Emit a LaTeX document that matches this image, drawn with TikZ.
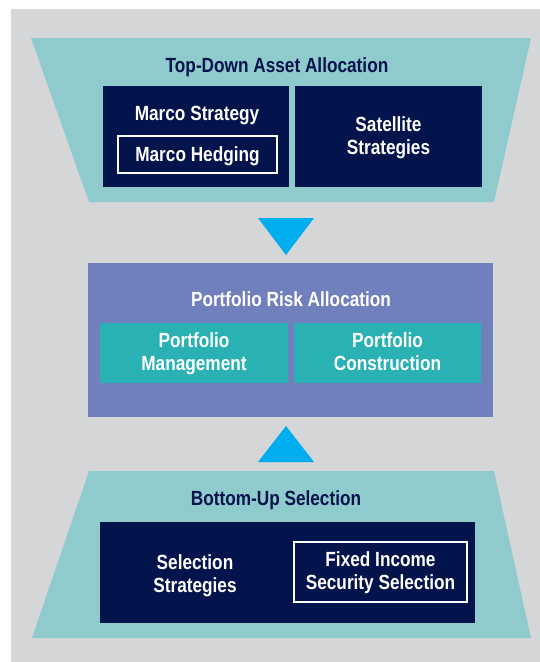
\documentclass[tikz,border=0pt]{standalone}
\usepackage{fontspec}
\setmainfont{Liberation Sans}[FakeStretch=0.84]
\definecolor{bgc}{HTML}{D5D6D8}
\definecolor{tealc}{HTML}{8FCBCC}
\definecolor{navyc}{HTML}{03134B}
\definecolor{violetc}{HTML}{7080BC}
\definecolor{tealboxc}{HTML}{29B1B3}
\definecolor{arrowc}{HTML}{00AEEF}
\begin{document}
\begin{tikzpicture}[x=1pt,y=-1pt,
  txt/.style={font=\fontsize{20.5}{23}\selectfont\bfseries, align=center, inner sep=0pt, yshift=-2.5pt,
    execute at begin node=\strut, execute at end node=\strut},
  wtxt/.style={txt, text=white},
  darkbox/.style={fill=navyc, inner sep=0pt},
  outlinebox/.style={draw=white, line width=1.2pt, inner sep=0pt},
  tealbox/.style={fill=tealboxc, inner sep=0pt},
  heading/.style={txt, text=navyc},
  arrowtri/.style={fill=arrowc}]
\useasboundingbox (0,0) rectangle (540,662);
\fill[bgc] (11,9) rectangle (540,662);
% top trapezoid
\fill[tealc] (31,38) -- (531,38) -- (494,202) -- (89,202) -- cycle;
\node[heading] (toptitle) at (277,65) {Top-Down Asset Allocation};
\node[darkbox, minimum width=186pt, minimum height=101pt] (ms) at (196,136.5) {};
\node[wtxt] (mstext) at (197,113) {Marco Strategy};
\node[outlinebox, minimum width=159pt, minimum height=37pt] (mh) at (197.5,154.5) {};
\node[wtxt] at (mh.center) {Marco Hedging};
\node[darkbox, minimum width=187pt, minimum height=101pt] (sat) at (388.5,136.5) {};
\node[wtxt] at (sat.center) {Satellite\\Strategies};
% down arrow
\fill[arrowtri] (258,218) -- (314,218) -- (286,255) -- cycle;
% middle
\node[fill=violetc, minimum width=405pt, minimum height=154pt, inner sep=0pt] (mid) at (290.5,340) {};
\node[wtxt] (midtitle) at (291,299) {Portfolio Risk Allocation};
\node[tealbox, minimum width=188pt, minimum height=60pt] (pm) at (194,353) {};
\node[wtxt] at (pm.center) {Portfolio\\Management};
\node[tealbox, minimum width=187pt, minimum height=60pt] (pc) at (387.5,353) {};
\node[wtxt] at (pc.center) {Portfolio\\Construction};
% up arrow
\fill[arrowtri] (286,426) -- (314,462) -- (258,462) -- cycle;
% bottom trapezoid
\fill[tealc] (89,471) -- (494,471) -- (531,638) -- (32,638) -- cycle;
\node[heading] (bottitle) at (276,498) {Bottom-Up Selection};
\node[darkbox, minimum width=375pt, minimum height=101pt] (bot) at (287.5,572.5) {};
\node[wtxt] (ss) at (195,575) {Selection\\Strategies};
\node[outlinebox, minimum width=173pt, minimum height=60pt] (fi) at (380.5,572) {};
\node[wtxt] at (fi.center) {Fixed Income\\Security Selection};
\end{tikzpicture}
\end{document}
